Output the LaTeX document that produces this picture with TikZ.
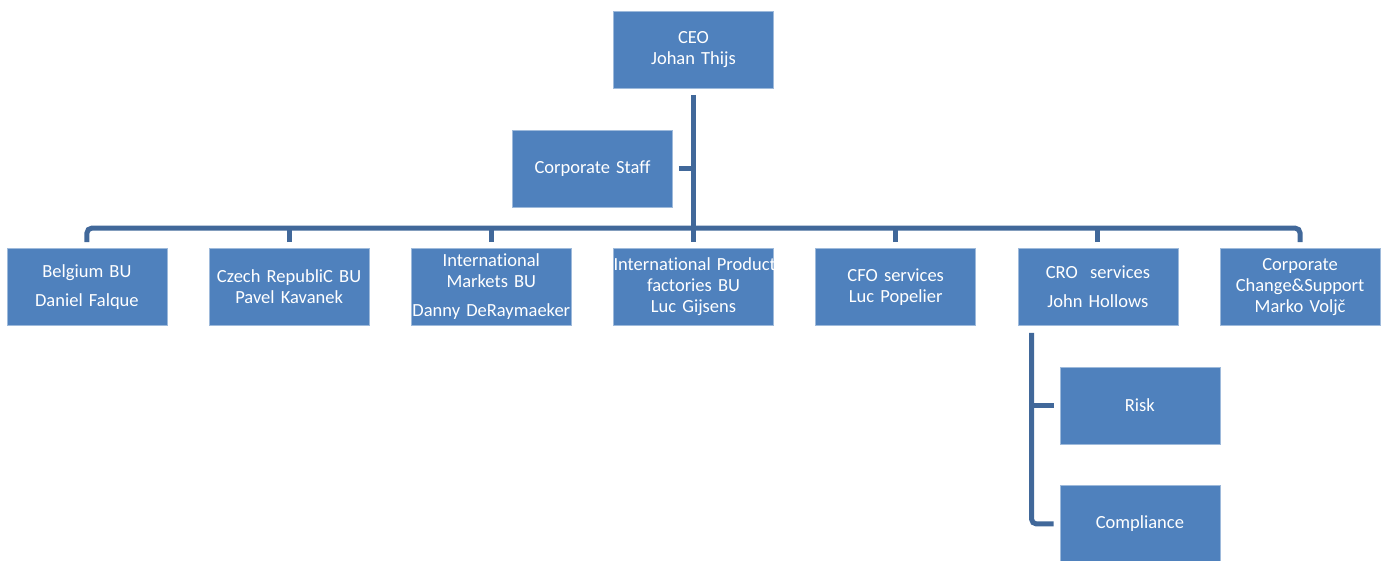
\documentclass[tikz,border=0pt]{standalone}
\usepackage{fontspec}
\setmainfont{Carlito}[Ligatures=NoCommon]
\usetikzlibrary{shapes,arrows}
\definecolor{boxblue}{RGB}{79,129,189}
\definecolor{linkblue}{RGB}{65,104,154}
\tikzstyle{block} = [rectangle, draw=boxblue!55!white, line width=0.8pt, fill=boxblue,
    text=white, text width=160pt, align=center, minimum width=160pt, minimum height=77pt,
    inner sep=0pt, font=\fontsize{18.5}{21}\selectfont]
\tikzstyle{link} = [draw=linkblue, line width=5pt]

\begin{document}
\begin{tikzpicture}[x=1pt, y=1pt, node distance=202.2pt]
    \useasboundingbox (0,0) rectangle (1387,561);
    % Place nodes
    \node [block] (ceo) at (693.5,511) {CEO\\Johan Thijs};
    \node [block, below of=ceo, node distance=118.5pt, xshift=-101pt] (staff) {Corporate Staff};
    \node [block, below of=ceo, node distance=237pt] (ipf) {\mbox{International Product}\\factories BU\\Luc Gijsens};
    \node [block, left of=ipf] (intl) {International\\Markets BU\\[8pt]Danny DeRaymaeker};
    \node [block, left of=intl] (czech) {Czech RepubliC BU\\Pavel Kavanek};
    \node [block, left of=czech] (belg) {Belgium BU\\[8pt]Daniel Falque};
    \node [block, right of=ipf] (cfo) {CFO services\\Luc Popelier};
    \node [block, right of=cfo] (cro) {CRO~~services\\[8pt]John Hollows};
    \node [block, right of=cro] (chg) {Corporate\\Change\&Support\\Marko Voljč};
    \node [block, below of=cro, node distance=118.5pt, xshift=42pt] (risk) {Risk};
    \node [block, below of=risk, node distance=118.5pt] (comp) {Compliance};

    % Draw edges
    \path [link] ([yshift=-6pt]ceo.south) -- ([yshift=6pt]ipf.north);
    \path [link] ([xshift=6pt]staff.east) -- (staff.east -| ceo.south);
    \path [link, rounded corners=5pt] ([yshift=6pt]belg.north) -- ++(0,14) -| ([yshift=6pt]chg.north);
    \foreach \unit in {czech,intl,cfo,cro}
        \path [link] ([yshift=6pt]\unit.north) -- ++(0,14);
    \coordinate (crotap) at ([xshift=14pt,yshift=-7pt]cro.south west);
    \path [link, rounded corners=5pt] (crotap) |- ([xshift=-6pt]comp.west);
    \path [link] (crotap |- risk.west) -- ([xshift=-6pt]risk.west);
\end{tikzpicture}
\end{document}
